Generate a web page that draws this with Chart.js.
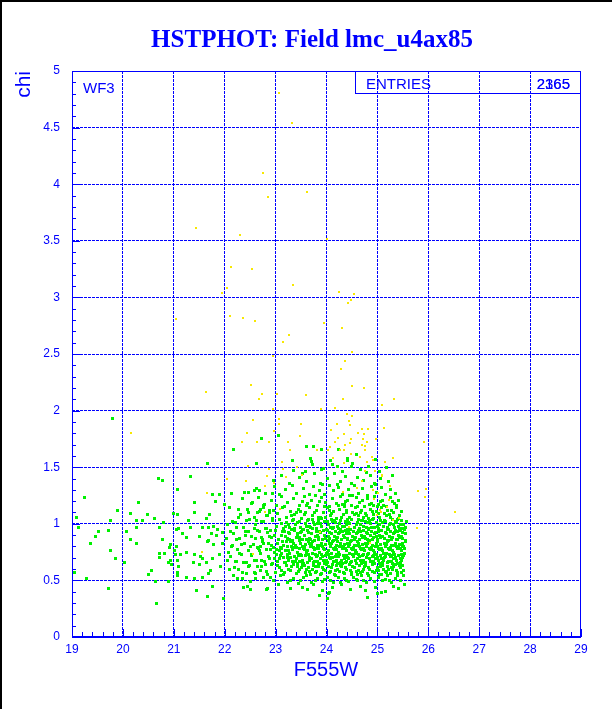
<!DOCTYPE html>
<html>
<head>
<meta charset="utf-8">
<script src="https://cdn.jsdelivr.net/npm/chart.js@4"></script>
<style>
html, body { margin: 0; padding: 0; background: #fff; }
canvas { display: block; }
</style>
</head>
<body>
<canvas id="hstChart" width="612" height="709"></canvas>
<script>
const chartTitle = 'HSTPHOT: Field lmc_u4ax85';
const xTitle = 'F555W';
const yTitle = 'chi';
const fieldLabel = 'WF3';
const entriesLabel = 'ENTRIES';
const entriesValues = ['2165', '2365'];
const xRange = [19, 29];
const yRange = [0, 5];

// flagged stars (yellow), [F555W, chi]
const yellowPts = [
[23.06,4.81],[23.32,4.54],[22.75,4.10],[22.85,3.89],[23.61,3.93],[21.44,3.61],[22.30,3.55],[24.00,3.52],[22.12,3.27],[22.53,3.25],
[23.34,3.11],[22.04,3.08],[21.95,3.04],[24.24,3.05],[24.54,3.03],[24.49,2.98],[24.42,2.95],[21.04,2.81],[22.10,2.84],[22.35,2.82],
[22.60,2.79],[23.95,2.77],[24.30,2.73],[23.26,2.67],[23.15,2.61],[24.50,2.52],[22.94,2.48],[24.36,2.44],[24.28,2.37],[22.51,2.23],
[24.50,2.22],[24.74,2.20],[21.63,2.16],[22.73,2.15],[23.02,2.15],[23.60,2.14],[22.67,2.10],[24.32,2.10],[25.33,2.10],[25.09,2.05],
[22.94,2.01],[23.89,2.01],[24.16,2.02],[24.40,1.97],[24.50,1.95],[22.55,1.92],[23.07,1.93],[24.44,1.91],[23.06,1.88],[23.49,1.88],
[24.20,1.88],[24.46,1.87],[24.70,1.84],[24.82,1.84],[24.08,1.83],[25.13,1.85],[22.97,1.82],[22.43,1.80],[23.47,1.78],[24.34,1.79],
[24.62,1.80],[24.74,1.79],[24.23,1.76],[24.49,1.75],[24.71,1.75],[24.97,1.75],[22.34,1.72],[22.63,1.72],[22.88,1.72],[23.24,1.72],
[24.17,1.72],[24.36,1.70],[24.46,1.71],[24.70,1.70],[24.79,1.72],[25.92,1.72],[24.07,1.68],[24.27,1.65],[24.76,1.69],[24.75,1.65],
[23.28,1.65],[24.02,1.65],[23.81,1.65],[24.34,1.65],[24.48,1.62],[24.13,1.58],[24.66,1.59],[24.89,1.59],[24.91,1.56],[23.13,1.55],
[23.42,1.50],[22.46,1.51],[24.34,1.54],[24.79,1.55],[25.14,1.55],[25.30,1.58],[22.88,1.48],[23.14,1.48],[24.75,1.47],[24.95,1.47],
[22.04,1.40],[22.83,1.42],[25.09,1.42],[22.42,1.38],[22.97,1.36],[22.79,1.33],[25.95,1.31],[20.15,1.80],[21.65,1.27],[21.55,0.75],
[25.80,1.29],[25.93,1.24],[26.52,1.10],[25.77,0.96],[24.59,1.32],[25.10,1.43],[25.05,1.12],[24.85,0.83],[25.31,1.03],[23.87,0.93],
[22.55,0.73],[23.09,1.13],[24.33,1.28],[24.92,1.30],[25.22,1.21],[25.08,1.10],[25.42,1.05],[24.45,0.97],[24.93,1.22],[25.02,1.27],
[25.18,1.15],[24.99,1.08],[25.25,1.33],[24.70,1.38],[23.52,1.43],[23.20,1.41],[22.80,1.10]
];

// accepted stars (green), [F555W, chi]
const greenPts = [
// sparse bright end
[19.79,1.93],[22.73,1.75],[22.18,1.66],[23.06,1.78],[23.60,1.68],[23.74,1.68],[23.91,1.66],[24.24,1.66],[24.41,1.56],[23.68,1.58],
[23.34,1.56],[22.63,1.53],[24.59,1.61],[24.50,1.51],[24.11,1.52],[23.91,1.48],[23.71,1.55],[21.66,1.53],
[21.67,1.53],[20.70,1.40],[20.78,1.38],[21.33,1.42],[21.08,1.30],[19.24,1.23],[20.31,1.19],[21.41,1.19],[19.90,1.12],[21.41,1.10],
[20.14,1.09],[19.08,1.06],[21.00,1.09],[21.08,1.08],[20.49,1.08],[20.62,1.05],[20.27,1.03],[20.39,1.03],[19.76,1.03],[21.29,1.03],
[21.65,1.05],[20.79,1.01],[19.12,0.97],[20.27,0.97],[20.72,0.97],[21.06,0.95],[21.10,0.96],[21.32,0.97],[21.57,0.97],[21.69,0.97],
[19.52,0.93],[19.71,0.94],[20.07,0.93],[21.17,0.91],[19.47,0.89],[21.24,0.88],[21.51,0.89],[20.15,0.86],[20.78,0.86],[21.67,0.84],
[19.37,0.83],[20.27,0.83],[20.93,0.82],[21.06,0.80],[20.91,0.79],[19.75,0.76],[20.72,0.74],[20.82,0.74],[21.02,0.76],[21.24,0.75],
[21.41,0.73],[21.14,0.73],[21.03,0.73],[21.53,0.71],[19.86,0.69],[20.72,0.70],[20.93,0.68],[21.08,0.68],[21.57,0.69],[20.04,0.66],
[20.90,0.66],[20.95,0.64],[21.38,0.66],[21.51,0.64],[21.65,0.66],[21.10,0.62],[19.05,0.57],[20.57,0.59],[21.08,0.57],[21.69,0.56],
[20.51,0.55],[19.29,0.52],[21.08,0.54],[21.24,0.53],[21.41,0.52],[21.57,0.53],[20.65,0.49],[20.90,0.49],[19.71,0.43],[21.45,0.41],
[21.67,0.36],[20.66,0.30],
[22.63,1.53],[22.13,1.27],[22.38,1.28],[22.46,1.28],[22.58,1.29],[22.69,1.29],[21.76,1.26],[21.89,1.26],[22.94,1.27],[21.82,1.20],
[22.35,1.22],[22.54,1.19],[22.77,1.16],[22.10,1.14],[21.99,1.17],[22.71,1.13],[22.88,1.12],[22.27,1.13],[22.47,1.10],[21.70,1.08],
[22.65,1.10],[22.27,1.06],[22.59,1.06],[22.82,1.07],[22.94,1.05],[22.43,1.03],[22.63,1.03],[22.16,1.02],[22.76,1.02],[21.78,0.98],
[21.86,0.95],[21.75,0.91],[21.84,0.90],[21.96,0.92],[22.05,0.99],[22.24,0.97],[22.12,0.93],[22.41,0.90],[22.47,0.93],[22.58,0.96],
[22.69,0.93],[22.80,0.96],[22.89,0.94],[22.88,0.89],[22.73,0.88],[22.60,0.87],[22.24,0.86],[22.03,0.87],[21.69,0.85],[21.78,0.82],
[21.95,0.83],[22.14,0.80],[22.33,0.82],[22.50,0.80],[22.64,0.79],[22.76,0.83],[22.86,0.83],[22.90,0.77],[22.69,0.76],[22.52,0.73],
[22.30,0.74],[22.08,0.75],[21.89,0.73],[21.76,0.69],[22.05,0.68],[22.21,0.67],[22.37,0.66],[22.59,0.68],[22.73,0.68],[22.88,0.69],
[22.80,0.64],[22.64,0.62],[22.47,0.62],[22.27,0.60],[22.10,0.60],[21.91,0.62],[21.72,0.59],[22.17,0.54],[22.43,0.56],[22.58,0.57],
[22.71,0.59],[22.85,0.55],[22.89,0.53],[22.34,0.52],[22.60,0.52],[21.76,0.45],[22.37,0.44],[22.85,0.43],[22.51,0.42],
// main clump, chi 1.45 - 1.58
[23.35,1.47],[23.72,1.52],[23.95,1.49],[24.08,1.56],[24.31,1.46],[24.52,1.53],[24.66,1.48],[24.83,1.51],[24.97,1.57],[25.05,1.46],
[25.18,1.50],[23.58,1.46],[24.41,1.58],[24.22,1.51],
// chi 1.35 - 1.45
[22.95,1.38],[23.12,1.43],[23.28,1.36],[23.46,1.41],[23.61,1.37],[23.77,1.44],[23.89,1.36],[24.02,1.40],[24.15,1.44],[24.27,1.37],
[24.38,1.42],[24.49,1.36],[24.60,1.41],[24.73,1.38],[24.86,1.43],[24.94,1.36],[25.07,1.40],[25.21,1.37],[25.30,1.43],[23.53,1.44],
[24.21,1.35],[24.78,1.45],
// chi 1.25 - 1.35
[22.62,1.31],[22.81,1.27],[22.98,1.33],[23.07,1.26],[23.19,1.30],[23.33,1.34],[23.41,1.27],[23.55,1.31],[23.66,1.26],[23.74,1.33],
[23.86,1.29],[23.97,1.26],[24.05,1.34],[24.13,1.29],[24.24,1.32],[24.32,1.26],[24.44,1.30],[24.55,1.34],[24.63,1.27],[24.71,1.31],
[24.80,1.25],[24.89,1.33],[24.99,1.28],[25.08,1.32],[25.15,1.26],[25.26,1.30],[25.36,1.27],[23.92,1.35],[24.51,1.25],[24.96,1.35],
// chi 1.15 - 1.25
[22.52,1.18],[22.67,1.23],[22.79,1.17],[22.91,1.21],[23.02,1.16],[23.11,1.24],[23.24,1.19],[23.36,1.22],[23.47,1.16],[23.57,1.24],
[23.63,1.18],[23.71,1.21],[23.82,1.16],[23.90,1.23],[23.99,1.19],[24.06,1.15],[24.11,1.22],[24.19,1.18],[24.28,1.24],[24.35,1.17],
[24.42,1.21],[24.50,1.16],[24.58,1.23],[24.65,1.19],[24.74,1.15],[24.81,1.22],[24.88,1.18],[24.95,1.24],[25.02,1.17],[25.10,1.21],
[25.17,1.15],[25.25,1.23],[25.33,1.18],[25.41,1.21],[23.18,1.15],[23.78,1.25],[24.46,1.25],[24.92,1.16],[23.52,1.20],[24.23,1.16],
[23.60,1.16],[23.96,1.15],[24.31,1.17],[24.60,1.15],[24.85,1.17],[25.12,1.16],[25.38,1.16],
[23.86,1.20],[24.38,1.20],[24.70,1.21],[25.06,1.20],[25.29,1.20],
// chi 1.05 - 1.15
[22.31,1.08],[22.44,1.13],[22.58,1.06],[22.69,1.11],[22.77,1.14],[22.85,1.07],[22.96,1.12],[23.04,1.09],[23.13,1.14],[23.21,1.06],
[23.29,1.11],[23.38,1.08],[23.45,1.13],[23.51,1.05],[23.59,1.10],[23.67,1.14],[23.73,1.07],[23.81,1.12],[23.88,1.06],[23.94,1.10],
[24.01,1.14],[24.07,1.07],[24.14,1.11],[24.20,1.05],[24.26,1.13],[24.33,1.08],[24.39,1.12],[24.45,1.06],[24.52,1.10],[24.57,1.14],
[24.63,1.07],[24.69,1.12],[24.76,1.09],[24.82,1.05],[24.87,1.13],[24.93,1.08],[24.98,1.11],[25.04,1.06],[25.09,1.14],[25.14,1.09],
[25.20,1.12],[25.26,1.06],[25.31,1.10],[25.37,1.14],[25.43,1.07],[25.48,1.11],[23.99,1.06],[24.36,1.15],[24.72,1.06],[25.00,1.15],
[23.42,1.10],[22.88,1.10],[24.58,1.09],[25.18,1.07],[23.31,1.07],[23.56,1.08],[23.84,1.06],[24.10,1.09],[24.30,1.06],[24.55,1.08],
[24.79,1.07],[25.02,1.09],[25.24,1.08],[25.41,1.05],[23.48,1.11],[23.77,1.10],[24.05,1.12],[24.40,1.10],[24.66,1.10],[24.90,1.11],
[25.28,1.12],
// chi 0.95 - 1.05
[22.22,1.01],[22.36,0.97],[22.49,1.04],[22.61,0.99],[22.72,1.02],[22.83,0.96],[22.93,1.03],[23.01,0.98],[23.08,1.04],[23.15,0.96],
[23.22,1.01],[23.27,0.97],[23.34,1.03],[23.40,0.99],[23.46,1.02],[23.53,0.95],[23.58,1.00],[23.64,1.04],[23.69,0.97],[23.75,1.01],
[23.80,0.96],[23.85,1.03],[23.91,0.98],[23.96,1.02],[24.00,0.95],[24.04,0.99],[24.09,1.04],[24.14,0.97],[24.18,1.01],[24.23,0.96],
[24.28,1.03],[24.32,0.98],[24.37,1.02],[24.41,0.95],[24.46,1.00],[24.50,1.04],[24.55,0.97],[24.60,1.01],[24.64,0.96],[24.68,1.03],
[24.73,0.98],[24.77,1.02],[24.82,0.95],[24.86,1.00],[24.90,1.04],[24.95,0.97],[24.99,1.01],[25.03,0.96],[25.07,1.03],[25.12,0.98],
[25.16,1.02],[25.21,0.95],[25.25,1.00],[25.29,1.04],[25.34,0.97],[25.38,1.01],[25.43,0.96],[25.47,1.03],[25.52,0.99],[25.57,1.02],
[23.12,1.00],[23.37,0.96],[23.61,0.98],[23.88,1.00],[24.12,1.02],[24.39,0.99],[24.62,1.04],[24.88,0.97],[25.10,1.01],[25.32,0.99],
[24.25,1.00],[24.80,1.01],[23.72,1.04],[25.45,0.99],[23.25,0.99],[23.43,1.01],[23.66,0.98],[23.83,1.00],[24.02,1.02],[24.21,0.98],
[24.44,1.01],[24.66,0.99],[24.84,1.03],[25.05,0.99],[25.19,0.97],[25.36,1.02],[25.50,0.96],
[23.36,1.04],[23.62,1.03],[23.90,1.05],[24.16,1.03],[24.42,1.04],[24.70,1.03],[24.93,1.05],[25.14,1.03],[25.40,1.04],
[23.19,0.98],[23.49,0.97],[23.77,0.99],[24.07,0.97],[24.35,0.98],[24.58,0.99],[24.79,0.97],[25.00,0.98],[25.23,0.99],[25.41,0.98],
[25.55,0.97],
// chi 0.85 - 0.95
[22.18,0.91],[22.29,0.87],[22.41,0.93],[22.53,0.89],[22.64,0.94],[22.74,0.86],[22.84,0.92],[22.92,0.88],[23.00,0.94],[23.06,0.86],
[23.11,0.90],[23.17,0.93],[23.23,0.87],[23.28,0.91],[23.33,0.85],[23.38,0.94],[23.43,0.89],[23.48,0.92],[23.52,0.86],[23.57,0.90],
[23.62,0.94],[23.66,0.87],[23.71,0.91],[23.76,0.85],[23.80,0.93],[23.84,0.88],[23.89,0.92],[23.93,0.86],[23.97,0.90],[24.01,0.94],
[24.05,0.87],[24.09,0.91],[24.13,0.85],[24.17,0.93],[24.21,0.88],[24.25,0.92],[24.29,0.86],[24.33,0.90],[24.37,0.94],[24.41,0.87],
[24.45,0.91],[24.49,0.85],[24.53,0.93],[24.57,0.88],[24.61,0.92],[24.65,0.86],[24.69,0.90],[24.73,0.94],[24.77,0.87],[24.81,0.91],
[24.85,0.85],[24.89,0.93],[24.93,0.88],[24.97,0.92],[25.01,0.86],[25.05,0.90],[25.09,0.94],[25.13,0.87],[25.17,0.91],[25.21,0.85],
[25.25,0.93],[25.29,0.88],[25.33,0.92],[25.37,0.86],[25.41,0.90],[25.45,0.94],[25.50,0.87],[25.55,0.91],[23.20,0.89],[23.55,0.95],
[23.82,0.90],[24.03,0.89],[24.27,0.95],[24.52,0.89],[24.75,0.89],[24.99,0.89],[25.23,0.89],[25.47,0.89],[23.46,0.88],[23.69,0.86],
[24.15,0.89],[24.40,0.91],[24.63,0.94],[24.87,0.90],[25.11,0.89],[25.35,0.94],[22.97,0.90],[23.14,0.93],[23.31,0.95],[23.50,0.93],
[23.73,0.96],[23.95,0.94],[24.11,0.96],[24.31,0.93],[24.47,0.95],[24.67,0.93],[24.83,0.96],[25.03,0.93],[25.19,0.95],[25.39,0.93],
[25.53,0.95],[23.27,0.86],[23.41,0.88],[23.60,0.86],[23.78,0.89],[23.99,0.87],[24.19,0.86],[24.35,0.88],[24.55,0.86],[24.71,0.88],
[24.91,0.86],[25.07,0.88],[25.27,0.86],[25.43,0.88],
[23.25,0.92],[23.44,0.91],[23.65,0.92],[23.87,0.93],[24.06,0.92],[24.23,0.91],[24.43,0.93],[24.59,0.91],[24.79,0.92],[24.95,0.91],
[25.15,0.92],[25.31,0.91],[25.49,0.92],
// chi 0.75 - 0.85
[22.15,0.81],[22.26,0.77],[22.38,0.83],[22.47,0.76],[22.56,0.82],[22.66,0.78],[22.75,0.84],[22.83,0.77],[22.91,0.81],[22.98,0.75],
[23.04,0.83],[23.09,0.79],[23.14,0.84],[23.19,0.76],[23.24,0.80],[23.29,0.84],[23.34,0.77],[23.39,0.81],[23.44,0.75],[23.49,0.83],
[23.54,0.78],[23.59,0.82],[23.63,0.76],[23.68,0.80],[23.73,0.84],[23.77,0.77],[23.82,0.81],[23.86,0.75],[23.91,0.83],[23.95,0.78],
[23.99,0.82],[24.03,0.76],[24.07,0.80],[24.11,0.84],[24.15,0.77],[24.19,0.81],[24.23,0.75],[24.27,0.83],[24.31,0.78],[24.35,0.82],
[24.39,0.76],[24.43,0.80],[24.47,0.84],[24.51,0.77],[24.55,0.81],[24.59,0.75],[24.63,0.83],[24.67,0.78],[24.71,0.82],[24.75,0.76],
[24.79,0.80],[24.83,0.84],[24.87,0.77],[24.91,0.81],[24.95,0.75],[24.99,0.83],[25.03,0.78],[25.07,0.82],[25.11,0.76],[25.15,0.80],
[25.19,0.84],[25.23,0.77],[25.27,0.81],[25.31,0.75],[25.35,0.83],[25.39,0.78],[25.43,0.82],[25.47,0.76],[25.52,0.80],[25.56,0.84],
[23.07,0.76],[23.31,0.80],[23.57,0.79],[23.80,0.78],[24.05,0.83],[24.29,0.80],[24.53,0.79],[24.77,0.83],[25.01,0.80],[25.25,0.79],
[25.49,0.80],[23.42,0.79],[23.66,0.83],[23.93,0.80],[24.17,0.79],[24.41,0.83],[24.65,0.80],[24.89,0.79],[25.13,0.83],[25.37,0.80],
[22.71,0.80],[22.95,0.79],[23.16,0.81],[23.36,0.83],[23.52,0.80],[23.70,0.82],[23.88,0.81],[24.09,0.83],[24.25,0.80],[24.45,0.82],
[24.61,0.81],[24.81,0.83],[24.97,0.80],[25.17,0.82],[25.33,0.81],[25.50,0.83],[23.02,0.77],[23.26,0.76],[23.46,0.78],[23.61,0.76],
[23.84,0.78],[24.01,0.75],[24.20,0.77],[24.37,0.78],[24.57,0.76],[24.73,0.78],[24.93,0.76],[25.09,0.78],[25.29,0.76],[25.45,0.78],
[23.21,0.84],[23.47,0.85],[23.65,0.84],[23.85,0.86],[24.04,0.85],[24.22,0.84],[24.42,0.86],[24.60,0.84],[24.80,0.86],[25.00,0.84],
[25.20,0.85],[25.40,0.86],[25.55,0.85],[23.12,0.78],[23.37,0.79],[23.56,0.77],[23.75,0.79],[23.97,0.77],[24.13,0.78],[24.33,0.79],
[24.49,0.78],[24.69,0.77],[24.85,0.78],[25.05,0.77],[25.21,0.78],[25.41,0.79],[25.54,0.78],
// chi 0.65 - 0.75
[22.12,0.71],[22.23,0.67],[22.33,0.73],[22.43,0.66],[22.52,0.72],[22.62,0.68],[22.70,0.74],[22.78,0.67],[22.86,0.71],[22.94,0.65],
[23.01,0.73],[23.07,0.69],[23.12,0.74],[23.18,0.66],[23.23,0.70],[23.28,0.74],[23.33,0.67],[23.38,0.71],[23.43,0.65],[23.48,0.73],
[23.53,0.68],[23.58,0.72],[23.62,0.66],[23.67,0.70],[23.72,0.74],[23.76,0.67],[23.81,0.71],[23.85,0.65],[23.90,0.73],[23.94,0.68],
[23.98,0.72],[24.02,0.66],[24.06,0.70],[24.10,0.74],[24.14,0.67],[24.18,0.71],[24.22,0.65],[24.26,0.73],[24.30,0.68],[24.34,0.72],
[24.38,0.66],[24.42,0.70],[24.46,0.74],[24.50,0.67],[24.54,0.71],[24.58,0.65],[24.62,0.73],[24.66,0.68],[24.70,0.72],[24.74,0.66],
[24.78,0.70],[24.82,0.74],[24.86,0.67],[24.90,0.71],[24.94,0.65],[24.98,0.73],[25.02,0.68],[25.06,0.72],[25.10,0.66],[25.14,0.70],
[25.18,0.74],[25.22,0.67],[25.26,0.71],[25.30,0.65],[25.34,0.73],[25.38,0.68],[25.42,0.72],[25.46,0.66],[25.50,0.70],[25.54,0.74],
[23.15,0.70],[23.41,0.69],[23.64,0.73],[23.88,0.69],[24.12,0.70],[24.36,0.69],[24.60,0.69],[24.84,0.69],[25.08,0.69],[25.32,0.69],
[23.52,0.66],[23.79,0.73],[24.04,0.73],[24.28,0.66],[24.52,0.73],[24.76,0.66],[25.00,0.70],[25.24,0.73],[25.45,0.69],[22.98,0.69],
[23.10,0.72],[23.30,0.70],[23.50,0.72],[23.70,0.69],[23.92,0.71],[24.08,0.69],[24.24,0.71],[24.44,0.69],[24.64,0.71],[24.80,0.73],
[24.96,0.69],[25.16,0.71],[25.36,0.70],[25.52,0.72],[23.20,0.66],[23.39,0.67],[23.55,0.65],[23.74,0.66],[23.96,0.65],[24.16,0.67],
[24.32,0.65],[24.48,0.66],[24.68,0.65],[24.88,0.67],[25.04,0.65],[25.20,0.66],[25.40,0.65],
[23.23,0.73],[23.45,0.72],[23.61,0.74],[23.83,0.72],[24.00,0.74],[24.20,0.73],[24.40,0.72],[24.56,0.74],[24.72,0.73],[24.92,0.72],
[25.12,0.74],[25.28,0.72],[25.48,0.73],[23.04,0.67],[23.26,0.68],[23.46,0.67],[23.66,0.68],[23.83,0.67],[24.00,0.68],[24.20,0.68],
[24.40,0.67],[24.56,0.68],[24.72,0.68],[24.92,0.67],[25.12,0.68],[25.28,0.67],[25.48,0.68],
// chi 0.55 - 0.65
[22.20,0.61],[22.35,0.57],[22.49,0.63],[22.61,0.56],[22.72,0.62],[22.83,0.58],[22.92,0.64],[23.00,0.57],[23.08,0.61],[23.15,0.55],
[23.22,0.63],[23.29,0.59],[23.35,0.64],[23.41,0.56],[23.47,0.60],[23.53,0.64],[23.58,0.57],[23.64,0.61],[23.69,0.55],[23.75,0.63],
[23.80,0.58],[23.85,0.62],[23.90,0.56],[23.95,0.60],[24.00,0.64],[24.05,0.57],[24.10,0.61],[24.15,0.55],[24.20,0.63],[24.25,0.58],
[24.30,0.62],[24.35,0.56],[24.40,0.60],[24.45,0.64],[24.50,0.57],[24.55,0.61],[24.60,0.55],[24.65,0.63],[24.70,0.58],[24.75,0.62],
[24.80,0.56],[24.85,0.60],[24.90,0.64],[24.95,0.57],[25.00,0.61],[25.05,0.55],[25.10,0.63],[25.15,0.58],[25.20,0.62],[25.25,0.56],
[25.30,0.60],[25.35,0.64],[25.40,0.57],[25.46,0.61],[25.52,0.59],[23.12,0.59],[23.44,0.62],[23.72,0.60],[23.98,0.59],[24.22,0.60],
[24.48,0.59],[24.72,0.60],[24.98,0.59],[25.22,0.60],[25.43,0.63],[23.60,0.60],[24.12,0.64],[24.62,0.59],[25.12,0.60],[23.86,0.65],
[23.26,0.60],[23.50,0.61],[23.67,0.58],[23.92,0.61],[24.17,0.59],[24.38,0.61],[24.58,0.58],[24.82,0.61],[25.03,0.59],[25.27,0.61],
[25.48,0.57],[23.03,0.63],[23.32,0.62],[23.56,0.63],[23.78,0.62],[24.03,0.62],[24.27,0.63],[24.52,0.62],[24.77,0.63],[25.07,0.62],
[25.32,0.62],[25.50,0.63],[23.18,0.57],[23.45,0.58],[23.78,0.57],[24.08,0.58],[24.33,0.57],[24.67,0.57],[24.91,0.58],[25.18,0.57],
[25.38,0.59],
// chi below 0.55
[22.25,0.52],[22.51,0.49],[22.77,0.53],[22.96,0.50],[23.10,0.54],[23.24,0.48],[23.36,0.52],[23.49,0.50],[23.61,0.54],[23.70,0.48],
[23.83,0.52],[23.92,0.49],[24.01,0.53],[24.08,0.50],[24.17,0.54],[24.27,0.48],[24.36,0.52],[24.44,0.49],[24.53,0.53],[24.61,0.50],
[24.69,0.54],[24.78,0.48],[24.87,0.52],[24.94,0.49],[25.03,0.53],[25.11,0.50],[25.19,0.54],[25.27,0.48],[25.36,0.52],[25.45,0.50],
[25.52,0.54],[23.30,0.50],[23.96,0.51],[24.58,0.51],[25.15,0.51],[23.55,0.53],[23.88,0.55],[24.23,0.53],[24.50,0.55],[24.83,0.54],
[25.08,0.55],[25.40,0.54],[23.45,0.47],[23.78,0.50],[24.13,0.48],[24.40,0.50],[24.73,0.50],[25.23,0.50],
[22.44,0.45],[22.83,0.42],[23.05,0.46],[23.29,0.43],[23.52,0.44],[23.75,0.46],[23.93,0.41],[24.03,0.38],[24.12,0.44],[24.30,0.46],
[24.47,0.42],[24.66,0.45],[24.77,0.41],[24.96,0.44],[25.08,0.39],[25.16,0.40],[25.31,0.45],[25.42,0.43],[25.53,0.46],[23.62,0.42],
[24.01,0.34],[24.80,0.35],[23.87,0.37],[24.05,0.39],[25.00,0.38],[21.98,0.34]
];

const BLUE = '#0000ff';
const toXY = (pts) => pts.map(p => ({x: p[0], y: p[1]}));

// white page, black edge on the left and top
const paperPlugin = {
    id: 'paper',
    beforeDraw: (chart) => {
        const ctx = chart.ctx;
        ctx.save();
        ctx.fillStyle = '#fff';
        ctx.fillRect(0, 0, chart.width, chart.height);
        ctx.fillStyle = '#000';
        ctx.fillRect(0, 0, 2, chart.height);
        ctx.fillRect(0, 0, chart.width, 2);
        ctx.restore();
    }
};

// snap markers to the pixel grid so they come out as hard little squares
const snapPlugin = {
    id: 'snap',
    beforeDatasetsDraw: (chart) => {
        chart.getSortedVisibleDatasetMetas().forEach(meta => {
            const odd = meta.index === 1;
            meta.data.forEach(pt => {
                if (odd) {
                    pt.x = Math.floor(pt.x) + 0.5;
                    pt.y = Math.floor(pt.y) + 0.5;
                } else {
                    pt.x = Math.round(pt.x);
                    pt.y = Math.round(pt.y);
                }
            });
        });
    }
};

// frame, minor ticks and all the free text
const framePlugin = {
    id: 'frame',
    afterDraw: (chart) => {
        const ctx = chart.ctx;
        const {left, right, top, bottom} = chart.chartArea;
        const xs = chart.scales.x;
        const ys = chart.scales.y;
        ctx.save();
        ctx.strokeStyle = BLUE;
        ctx.lineWidth = 1;
        ctx.strokeRect(left + 0.5, top + 0.5, right - left - 1, bottom - top - 1);

        ctx.beginPath();
        for (let i = 0; i <= 50; i++) {
            const px = Math.round(xs.getPixelForValue(xRange[0] + i * 0.2)) + 0.5;
            const len = i % 5 === 0 ? 8 : 5;
            ctx.moveTo(px, bottom);
            ctx.lineTo(px, bottom - len);
        }
        for (let i = 0; i <= 50; i++) {
            const py = Math.round(ys.getPixelForValue(yRange[0] + i * 0.1)) + 0.5;
            const len = i % 5 === 0 ? 8 : 4;
            ctx.moveTo(left, py);
            ctx.lineTo(left + len, py);
        }
        ctx.stroke();

        ctx.lineWidth = 2;
        ctx.beginPath();
        ctx.moveTo(left, bottom);
        ctx.lineTo(right, bottom);
        ctx.stroke();

        // stats box
        ctx.lineWidth = 1;
        ctx.strokeRect(355.5, top + 0.5, right - 356, 22);

        ctx.fillStyle = BLUE;
        ctx.font = 'bold 25px "Liberation Serif", "Times New Roman", serif';
        ctx.textAlign = 'center';
        ctx.textBaseline = 'alphabetic';
        ctx.fillText(chartTitle, 312, 47);

        ctx.font = '20px "Liberation Sans", Arial, sans-serif';
        ctx.fillText(xTitle, 326, 676);

        ctx.font = '15px "Liberation Sans", Arial, sans-serif';
        ctx.textAlign = 'left';
        ctx.fillText(fieldLabel, 83, 93);
        ctx.fillText(entriesLabel, 366, 89);
        ctx.textAlign = 'right';
        entriesValues.forEach(v => ctx.fillText(v, 570, 89));

        ctx.translate(30, top);
        ctx.rotate(-Math.PI / 2);
        ctx.font = '21px "Liberation Sans", Arial, sans-serif';
        ctx.textAlign = 'right';
        ctx.fillText(yTitle, 0, 0);
        ctx.restore();
    }
};

const edgeless = (c) => (c.tick && (c.tick.value === c.scale.min || c.tick.value === c.scale.max)) ? 'rgba(0,0,0,0)' : BLUE;
const plainNumber = (v) => String(Math.round(v * 10) / 10);

const hstChart = new Chart(document.getElementById('hstChart'), {
    type: 'scatter',
    data: {
        datasets: [{
            label: 'flagged',
            data: toXY(yellowPts),
            backgroundColor: '#f7e800',
            borderWidth: 0,
            pointStyle: 'rect',
            pointRadius: Math.SQRT2,
            order: 0
        }, {
            label: 'stars',
            data: toXY(greenPts),
            backgroundColor: '#00f000',
            borderWidth: 0,
            pointStyle: 'rect',
            pointRadius: 1.5 * Math.SQRT2,
            order: 1
        }]
    },
    plugins: [paperPlugin, snapPlugin, framePlugin],
    options: {
        responsive: false,
        animation: false,
        devicePixelRatio: 1,
        events: [],
        layout: {
            padding: { top: 71, right: 31, left: 0, bottom: 0 }
        },
        plugins: {
            legend: { display: false },
            tooltip: { enabled: false },
            title: { display: false }
        },
        scales: {
            x: {
                type: 'linear',
                min: xRange[0],
                max: xRange[1],
                afterFit: (s) => { s.height = 72; },
                ticks: {
                    stepSize: 1,
                    color: BLUE,
                    padding: 5,
                    maxRotation: 0,
                    autoSkip: false,
                    callback: plainNumber,
                    font: { family: '"Liberation Sans", Arial, sans-serif', size: 12 }
                },
                grid: { color: edgeless, lineWidth: 1, drawTicks: false },
                border: { display: false, dash: [3, 1] }
            },
            y: {
                type: 'linear',
                min: yRange[0],
                max: yRange[1],
                afterFit: (s) => { s.width = 72; },
                ticks: {
                    stepSize: 0.5,
                    color: BLUE,
                    padding: 12,
                    autoSkip: false,
                    callback: plainNumber,
                    font: { family: '"Liberation Sans", Arial, sans-serif', size: 12 }
                },
                grid: { color: edgeless, lineWidth: 1, drawTicks: false },
                border: { display: false, dash: [3, 1] }
            }
        }
    }
});
</script>
</body>
</html>
